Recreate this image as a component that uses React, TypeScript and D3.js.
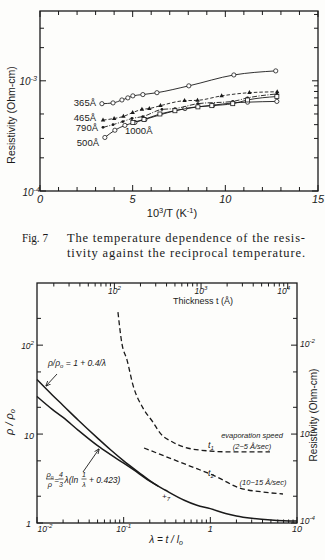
import React from 'react';
import * as d3 from 'd3';

// ---- Fig. 7 : resistivity against 10^3/T (K^-1), ohm-cm ----
const x365 = [3.34, 3.94, 4.42, 4.74, 5.01, 5.55, 6.31, 8.03, 10.46, 12.72];
const r365 = [6.2e-4, 6.3e-4, 6.7e-4, 7.0e-4, 7.3e-4, 7.5e-4, 7.8e-4, 9.0e-4, 1.13e-3, 1.23e-3];
const x465 = [3.4, 4.0, 4.5, 5.0, 5.5, 5.9, 6.5, 7.8, 8.5, 9.8, 11.3, 12.8];
const r465 = [4.4e-4, 4.55e-4, 4.75e-4, 5.15e-4, 5.5e-4, 5.6e-4, 5.95e-4, 6.6e-4, 6.65e-4, 7.3e-4, 7.8e-4, 7.95e-4];
const x790 = [3.4, 3.94, 4.47, 4.96, 5.55, 6.58, 7.28, 8.52, 10.4, 11.2, 12.78];
const r790 = [3.78e-4, 4.0e-4, 4.27e-4, 4.55e-4, 4.74e-4, 5.5e-4, 5.6e-4, 6.2e-4, 6.5e-4, 7.0e-4, 7.6e-4];
const x500 = [3.5, 4.04, 4.58, 5.12, 5.66, 7.82, 9.33, 10.4, 11.2, 12.78];
const r500 = [3.06e-4, 3.56e-4, 3.94e-4, 4.19e-4, 4.46e-4, 5.6e-4, 6.0e-4, 6.3e-4, 6.4e-4, 6.5e-4];
const x1000 = [5.01, 5.61, 6.47, 7.28, 8.52, 9.27, 10.4, 11.2, 12.78];
const r1000 = [4.19e-4, 4.46e-4, 5.0e-4, 5.35e-4, 5.8e-4, 5.95e-4, 6.2e-4, 6.7e-4, 7.2e-4];
const xTicks1 = [0, 5, 10, 15];

// ---- lower figure : rho/rho0 against lambda = t/l0 ----
const lamA = [0.01, 0.015, 0.02, 0.03, 0.05, 0.07, 0.1, 0.15, 0.2, 0.25, 0.3, 0.5, 0.7, 1, 1.5, 2, 3, 5, 7, 10];
const rhoA = [41, 27.5, 21, 14.3, 9, 6.7, 5, 3.7, 3.0, 2.6, 2.35, 1.8, 1.58, 1.45, 1.28, 1.2, 1.13, 1.08, 1.06, 1.05];
const lamB = [0.01, 0.015, 0.02, 0.03, 0.05, 0.07, 0.1, 0.15, 0.2, 0.25];
const rhoB = [26.5, 19, 15.4, 11, 7.4, 5.9, 4.7, 3.6, 2.95, 2.6];
// thickness (A) vs resistivity (ohm-cm)
const t1 = [110, 122, 140, 164, 214, 279, 336, 474, 972, 2335, 6240];
const res1 = [2.35e-2, 1.05e-2, 6.8e-3, 3.55e-3, 1.96e-3, 1.36e-3, 1.03e-3, 8.1e-4, 6.6e-4, 6.3e-4, 6.3e-4];
const t2 = [220, 405, 745, 1450, 2810, 5190, 8810];
const res2 = [6.97e-4, 5.52e-4, 4.37e-4, 3.37e-4, 2.47e-4, 2.23e-4, 2.12e-4];

const ink = '#1a1a1a';
const hand = '"Liberation Sans", Arial, sans-serif';
const serif = '"Liberation Serif", "DejaVu Serif", serif';

function Pow({ x, y, base, exp, size = 9, anchor = 'start' }: any) {
  return (
    <text x={x} y={y} fontSize={size} textAnchor={anchor} fontFamily={hand} fontStyle="italic" fill={ink}>
      <tspan>{base}</tspan>
      <tspan dy={-size * 0.45} fontSize={size * 0.72}>{exp}</tspan>
    </text>
  );
}

function logTicks(dom: number[], mult: number[]) {
  const out: { v: number; major: boolean }[] = [];
  const lo = Math.floor(Math.log10(dom[0]));
  const hi = Math.ceil(Math.log10(dom[1]));
  for (let e = lo; e <= hi; e++) {
    const d = Math.pow(10, e);
    if (d >= dom[0] * 0.999 && d <= dom[1] * 1.001) out.push({ v: d, major: true });
    mult.forEach((m) => {
      const v = m * d;
      if (v > dom[0] && v < dom[1]) out.push({ v, major: false });
    });
  }
  return out;
}

export default function App() {
  // top chart scales
  const x1 = d3.scaleLinear().domain([0, 15]).range([40, 318]);
  const y1 = d3.scaleLog().domain([1e-4, 4.3e-3]).range([191, 11]);
  const line1 = (xs: number[], ys: number[]) =>
    d3.line<number>().x((d, i) => x1(xs[i])).y((d) => y1(d)).curve(d3.curveMonotoneX)(ys) || '';

  const series = [
    { xs: x365, ys: r365, dash: '', mark: 'circle' },
    { xs: x465, ys: r465, dash: '3.5,2', mark: 'tri' },
    { xs: x790, ys: r790, dash: '5,1.5,1,1.5', mark: 'dot' },
    { xs: x500, ys: r500, dash: '', mark: 'circle' },
    { xs: x1000, ys: r1000, dash: '', mark: 'square' },
  ];

  // bottom chart scales
  const xL = d3.scaleLog().domain([0.01, 10]).range([37, 297]);
  const yL = d3.scaleLog().domain([1, 500]).range([523, 283]);
  const xT = d3.scaleLog().domain([12.8, 12800]).range([37, 297]);
  const yR = d3.scaleLog().domain([1e-4, 5e-2]).range([523, 283]);
  const lineL = (xs: number[], ys: number[]) =>
    d3.line<number>().x((d, i) => xL(xs[i])).y((d) => yL(d)).curve(d3.curveMonotoneX)(ys) || '';
  const lineT = (xs: number[], ys: number[]) =>
    d3.line<number>().x((d, i) => xT(xs[i])).y((d) => yR(d)).curve(d3.curveMonotoneX)(ys) || '';

  const xMinor1 = d3.range(0, 16);

  return (
    <svg width={325} height={560} viewBox="0 0 325 560"
      style={{ position: 'absolute', left: 0, top: 0, background: '#fdfdfb' }}>
      <defs>
        <marker id="ah" viewBox="0 0 10 10" refX="9" refY="5" markerWidth="6" markerHeight="6" orient="auto">
          <path d="M0,1 L10,5 L0,9" fill="none" stroke={ink} strokeWidth="1.5" />
        </marker>
      </defs>

      {/* ===== top chart ===== */}
      <rect x={40} y={11} width={278} height={180} fill="none" stroke={ink} strokeWidth={1.3} />
      {xMinor1.map((v) => {
        const len = v % 5 === 0 ? 6 : 4;
        return (
          <g key={'xt' + v} stroke={ink} strokeWidth={1}>
            <line x1={x1(v)} x2={x1(v)} y1={191} y2={191 - len} />
            <line x1={x1(v)} x2={x1(v)} y1={11} y2={11 + len} />
          </g>
        );
      })}
      {logTicks([1e-4, 4.3e-3], [2, 3, 4, 5, 6, 7, 8, 9]).map((t, i) => (
        <g key={'yt' + i} stroke={ink} strokeWidth={1}>
          {(t.major || [2, 3, 5].includes(Math.round(t.v / Math.pow(10, Math.floor(Math.log10(t.v)))))) && (
            <line x1={40} x2={40 + (t.major ? 6 : 4)} y1={y1(t.v)} y2={y1(t.v)} />
          )}
          <line x1={318} x2={318 - (t.major ? 6 : 4)} y1={y1(t.v)} y2={y1(t.v)} />
        </g>
      ))}
      {xTicks1.map((v) => (
        <text key={'xl' + v} x={x1(v)} y={203} fontSize={11} textAnchor="middle"
          fontFamily={hand} fontStyle="italic" fill={ink}>{v}</text>
      ))}
      <Pow x={37} y={85} base="10" exp="-3" size={10} anchor="end" />
      <Pow x={40} y={196} base="10" exp="-4" size={10} anchor="end" />
      <text x={172} y={217} fontSize={11} textAnchor="middle" fontFamily={hand} fill={ink}>
        <tspan>10</tspan><tspan dy={-4} fontSize={7.5}>3</tspan><tspan dy={4}>/T  (K</tspan>
        <tspan dy={-4} fontSize={7.5}>-1</tspan><tspan dy={4}>)</tspan>
      </text>
      <text transform="translate(15,115) rotate(-90)" fontSize={10.5} textAnchor="middle"
        fontFamily={hand} fill={ink}>Resistivity (Ohm-cm)</text>

      {series.map((s, si) => (
        <g key={'s' + si}>
          <path d={line1(s.xs, s.ys)} fill="none" stroke={ink} strokeWidth={0.9}
            strokeDasharray={s.dash || undefined} />
          {s.xs.map((xv, i) => {
            const cx = x1(xv), cy = y1(s.ys[i]);
            if (s.mark === 'circle')
              return <circle key={i} cx={cx} cy={cy} r={2.1} fill="#fff" stroke={ink} strokeWidth={0.8} />;
            if (s.mark === 'tri')
              return <path key={i} d={`M${cx},${cy - 2.6}L${cx + 2.2},${cy + 1.4}L${cx - 2.2},${cy + 1.4}Z`} fill={ink} />;
            if (s.mark === 'dot')
              return <circle key={i} cx={cx} cy={cy} r={1.4} fill={ink} />;
            return <rect key={i} x={cx - 2} y={cy - 2} width={4} height={4} fill="#fff" stroke={ink} strokeWidth={0.8} />;
          })}
        </g>
      ))}
      <g fontFamily={hand} fontSize={9.5} fill={ink}>
        <text x={96} y={106} textAnchor="end">365Å</text>
        <text x={96} y={121} textAnchor="end">465Å</text>
        <text x={98} y={131} textAnchor="end">790Å</text>
        <text x={99} y={146} textAnchor="end">500Å</text>
        <text x={125} y={134}>1000Å</text>
      </g>

      {/* caption */}
      <g fontFamily={serif} fontSize={12.5} fill={ink}>
        <text x={22} y={242} textLength={26} lengthAdjust="spacingAndGlyphs">Fig. 7</text>
        <text x={67} y={242} textLength={238} lengthAdjust="spacing">The temperature dependence of the resis-</text>
        <text x={67} y={257} textLength={238} lengthAdjust="spacing">tivity against the reciprocal temperature.</text>
      </g>

      {/* ===== bottom chart ===== */}
      <rect x={37} y={283} width={260} height={240} fill="none" stroke={ink} strokeWidth={1.3} />
      {logTicks([0.01, 10], [2, 3, 4, 5, 6, 7, 8, 9]).map((t, i) => (
        <line key={'bx' + i} x1={xL(t.v)} x2={xL(t.v)} y1={523} y2={523 - (t.major ? 6 : 3.5)}
          stroke={ink} strokeWidth={1} />
      ))}
      {logTicks([12.8, 12800], [2, 3, 4, 5, 6, 7, 8, 9]).map((t, i) => (
        <line key={'tx' + i} x1={xT(t.v)} x2={xT(t.v)} y1={283} y2={283 + (t.major ? 6 : 3.5)}
          stroke={ink} strokeWidth={1} />
      ))}
      {logTicks([1, 500], [2, 5]).map((t, i) => (
        <line key={'ly' + i} x1={37} x2={37 + (t.major ? 6 : 4)} y1={yL(t.v)} y2={yL(t.v)}
          stroke={ink} strokeWidth={1} />
      ))}
      {logTicks([1e-4, 5e-2], [2, 5]).map((t, i) => (
        <line key={'ry' + i} x1={297} x2={297 - (t.major ? 6 : 4)} y1={yR(t.v)} y2={yR(t.v)}
          stroke={ink} strokeWidth={1} />
      ))}

      <Pow x={xL(0.01) + 8} y={532} base="10" exp="-2" size={8.5} anchor="middle" />
      <Pow x={xL(0.1)} y={532} base="10" exp="-1" size={8.5} anchor="middle" />
      <text x={xL(1)} y={532} fontSize={9} textAnchor="middle" fontFamily={hand} fontStyle="italic" fill={ink}>1</text>
      <text x={xL(10)} y={532} fontSize={9} textAnchor="middle" fontFamily={hand} fontStyle="italic" fill={ink}>10</text>
      <text x={166} y={543} fontSize={10} textAnchor="middle" fontFamily={hand} fontStyle="italic" fill={ink}>
        <tspan>λ = t / l</tspan><tspan dy={2} fontSize={7}>o</tspan>
      </text>

      <Pow x={34} y={349} base="10" exp="2" size={8.5} anchor="end" />
      <text x={34} y={439} fontSize={9} textAnchor="end" fontFamily={hand} fontStyle="italic" fill={ink}>10</text>
      <text x={31} y={527} fontSize={9} textAnchor="end" fontFamily={hand} fontStyle="italic" fill={ink}>1</text>
      <text transform="translate(13,422) rotate(-90)" fontSize={11} textAnchor="middle" fontFamily={hand} fontStyle="italic" fill={ink}>
        <tspan>ρ / ρ</tspan><tspan dy={2} fontSize={7.5}>o</tspan>
      </text>

      <Pow x={300} y={347} base="10" exp="-2" size={8.5} />
      <Pow x={300} y={437} base="10" exp="-3" size={8.5} />
      <Pow x={300} y={524} base="10" exp="-4" size={8.5} />
      <text transform="translate(317,415) rotate(-90)" fontSize={10} textAnchor="middle" fontFamily={hand} fill={ink}>
        Resistivity (Ohm-cm)
      </text>

      <Pow x={xT(100)} y={294} base="10" exp="2" size={8.5} anchor="middle" />
      <Pow x={xT(1000)} y={294} base="10" exp="3" size={8.5} anchor="middle" />
      <Pow x={xT(10000) - 4} y={294} base="10" exp="4" size={8.5} anchor="middle" />
      <text x={203} y={304} fontSize={9} textAnchor="middle" fontFamily={hand} fill={ink}>Thickness t (Å)</text>

      {/* theory curves */}
      <path d={lineL(lamA, rhoA)} fill="none" stroke={ink} strokeWidth={1.5} />
      <path d={lineL(lamB, rhoB)} fill="none" stroke={ink} strokeWidth={1.5} />
      {/* measured thickness curves */}
      <path d={lineT(t1, res1)} fill="none" stroke={ink} strokeWidth={1.3} strokeDasharray="5,3" />
      <path d={lineT(t2, res2)} fill="none" stroke={ink} strokeWidth={1.3} strokeDasharray="5,3" />

      {/* annotations */}
      <g fontFamily={hand} fontStyle="italic" fill={ink}>
        <text x={48} y={366} fontSize={8.5}>
          <tspan>ρ/ρ</tspan><tspan dy={2} fontSize={6}>o</tspan><tspan dy={-2}> = 1 + 0.4/λ</tspan>
        </text>
        <line x1={57} y1={374} x2={46} y2={386} stroke={ink} strokeWidth={0.9} markerEnd="url(#ah)" />

        <text x={50} y={477} fontSize={7.5} textAnchor="middle">
          <tspan>ρ</tspan><tspan dy={1.5} fontSize={5}>o</tspan>
        </text>
        <line x1={46} x2={54} y1={479} y2={479} stroke={ink} strokeWidth={0.7} />
        <text x={50} y={487} fontSize={7.5} textAnchor="middle">ρ</text>
        <text x={56.5} y={483} fontSize={8} textAnchor="middle">=</text>
        <text x={61} y={477} fontSize={7} textAnchor="middle">4</text>
        <line x1={58.5} x2={63.5} y1={479} y2={479} stroke={ink} strokeWidth={0.7} />
        <text x={61} y={487} fontSize={7} textAnchor="middle">3</text>
        <text x={64.5} y={483} fontSize={8.5}>λ(ln</text>
        <text x={84} y={477} fontSize={7} textAnchor="middle">1</text>
        <line x1={81.5} x2={86.5} y1={479} y2={479} stroke={ink} strokeWidth={0.7} />
        <text x={84} y={487} fontSize={7} textAnchor="middle">λ</text>
        <text x={89} y={483} fontSize={8.5}>+ 0.423)</text>
        <line x1={83} y1={472} x2={99} y2={449} stroke={ink} strokeWidth={0.9} markerEnd="url(#ah)" />

        <text x={162} y={499} fontSize={8}>+<tspan dy={2} fontSize={6}>7</tspan></text>

        <text x={208} y={448} fontSize={9}>t<tspan dy={2} fontSize={6}>1</tspan></text>
        <text x={252} y={438} fontSize={7.5} textAnchor="middle">evaporation speed</text>
        <text x={252} y={449} fontSize={7.5} textAnchor="middle">(2~5 Å/sec)</text>
        <text x={208} y={476} fontSize={9}>t<tspan dy={2} fontSize={6}>2</tspan></text>
        <text x={263} y={485} fontSize={7.5} textAnchor="middle">(10~15 Å/sec)</text>
      </g>
    </svg>
  );
}
